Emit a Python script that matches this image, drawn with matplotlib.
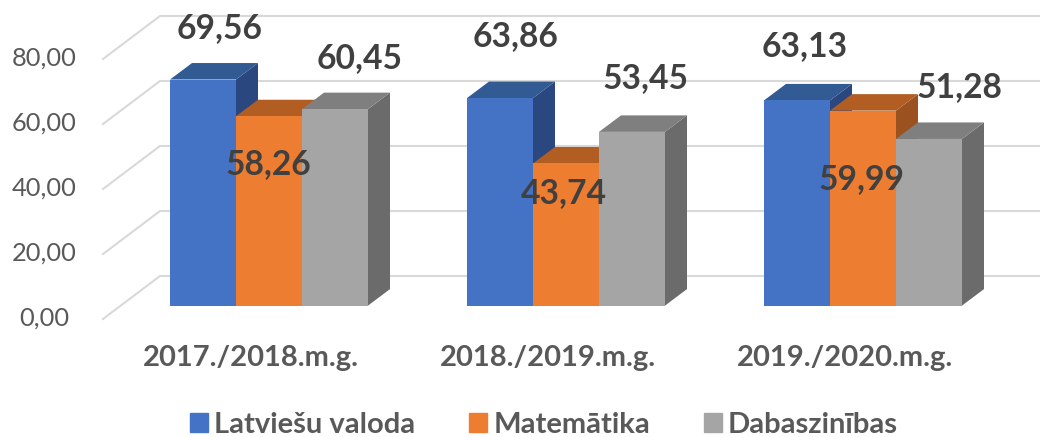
import matplotlib
matplotlib.use('Agg')
import matplotlib.pyplot as plt
from matplotlib.patches import Patch
from matplotlib.transforms import ScaledTranslation

plt.rcParams['font.family'] = ['Lato', 'DejaVu Sans']

# data
categories = ['2017./2018.m.g.', '2018./2019.m.g.', '2019./2020.m.g.']
series_names = ['Latviešu valoda', 'Matemātika', 'Dabaszinības']
latviesu = [69.56, 63.86, 63.13]
matematika = [58.26, 43.74, 59.99]
dabaszinibas = [60.45, 53.45, 51.28]
y_ticks = [0, 20, 40, 60, 80]

front_colors = ['#4472C4', '#ED7D31', '#A5A5A5']
top_colors = ['#325A93', '#B25E22', '#7F7F7F']
side_colors = ['#2A4780', '#9B5220', '#6B6B6B']
text_color = '#404040'
tick_color = '#595959'
grid_color = '#D9D9D9'

# label centres in pixels, the source chart has them dragged by hand
label_pos = [
    [(220, 28), (516, 36), (805, 46)],
    [(268, 164), (564, 193), (861, 179)],
    [(360, 58), (645, 78), (959, 87)],
]

W, H = 1040, 437
PX_X = 297.0    # pixels per category
PX_Y = 3.25     # pixels per value unit
X0, Y0 = 269, 305.6
BAR_W = 66 / PX_X
DX, DY = 22 / PX_X, 16.5 / PX_Y

fig = plt.figure(figsize=(W / 100, H / 100), dpi=100)
ax = fig.add_axes([0, 0, 1, 1])
ax.set_xlim(-X0 / PX_X, (W - X0) / PX_X)
ax.set_ylim((Y0 - H) / PX_Y, Y0 / PX_Y)
for s in ax.spines.values():
    s.set_visible(False)

# back wall and left wall
wall_left = (160 - X0) / PX_X
front_left = (103 - X0) / PX_X
wall_shift = (Y0 - 276) / PX_Y
front_shift = (Y0 - 319) / PX_Y
for v in y_ticks:
    ax.plot([front_left, wall_left, ax.get_xlim()[1]],
            [v + front_shift, v + wall_shift, v + wall_shift],
            color=grid_color, lw=1.5, zorder=1)
    ax.text((44 - X0) / PX_X, v + front_shift + 0.4, f'{v:.2f}'.replace('.', ','),
            ha='center', va='center', fontsize=18.3, color=tick_color)

# bars, left to right so that each one covers the side of the one before
z = 2
for s, values in enumerate([latviesu, matematika, dabaszinibas]):
    for i, v in enumerate(values):
        x = i + (s - 1) * BAR_W
        l, r = x - BAR_W / 2, x + BAR_W / 2
        ax.fill([r, r + DX, r + DX, r], [0, DY, v + DY, v],
                color=side_colors[s], lw=0, zorder=z)
        ax.fill([l, l + DX, r + DX, r], [v, v + DY, v + DY, v],
                color=top_colors[s], lw=0, zorder=z + 0.1)
        ax.bar(x, v, BAR_W, color=front_colors[s], zorder=z + 0.2)
        z += 1

for s, values in enumerate([latviesu, matematika, dabaszinibas]):
    for i, v in enumerate(values):
        px, py = label_pos[s][i]
        ax.text((px - X0) / PX_X, (Y0 - py) / PX_Y, f'{v:.2f}'.replace('.', ','),
                ha='center', va='center', fontsize=24.2, fontweight='bold',
                color=text_color, zorder=50)

ax.set_xticks([0, 1, 2])
ax.set_xticklabels(categories, fontsize=21, fontweight='bold', color=tick_color)
ax.set_yticks([])
ax.tick_params(axis='x', length=0, direction='in', pad=-66)
# category labels sit left of the bar groups
shift = ScaledTranslation(-18 / 100, 0, fig.dpi_scale_trans)
for lab in ax.get_xticklabels():
    lab.set_transform(lab.get_transform() + shift)

handles = [Patch(color=c) for c in front_colors]
fig.legend(handles, series_names, loc='center', bbox_to_anchor=(544 / W, 1 - 425 / H),
           ncols=3, frameon=False, prop={'size': 21, 'weight': 'bold'},
           labelcolor=tick_color, handlelength=0.62, handleheight=0.62,
           handletextpad=0.2, columnspacing=1.85, borderpad=0)

fig.savefig('out.png', dpi=100)
